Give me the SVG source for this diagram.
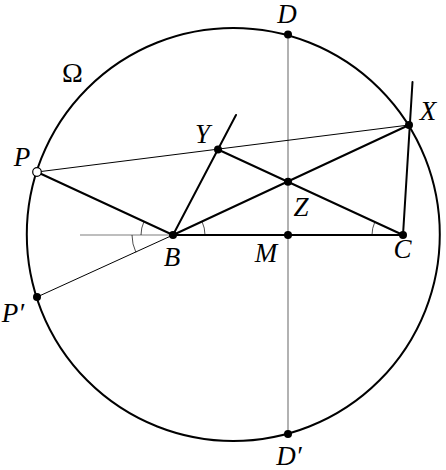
<svg xmlns="http://www.w3.org/2000/svg" width="446" height="470" viewBox="0 0 446 470">
<style>
.thick{stroke:#000;stroke-width:2;fill:none;stroke-linecap:round}
.thin{stroke:#000;stroke-width:1;fill:none}
.gray{stroke:#7f7f7f;stroke-width:1.2;fill:none}
.arc{stroke:#000;stroke-width:0.7;fill:none}
.pt{fill:#000}
.open{fill:#fff;stroke:#000;stroke-width:1.2}
.lbl{font-family:"Liberation Serif","DejaVu Serif",serif;font-style:italic;font-size:27px;fill:#000;text-anchor:middle}
.up{font-style:normal;font-size:28px}
</style>
<rect width="446" height="470" fill="#fff"/>
<g id="circle-omega">
<circle cx="233.3" cy="234.5" r="206.5" class="thick"/>
<text x="72.5" y="82" class="lbl up">Ω</text>
</g>
<g id="connectors">
<line x1="288" y1="34.5" x2="288" y2="434" class="gray"/>
<line x1="80" y1="235" x2="173" y2="235" class="gray"/>
<line x1="37" y1="172" x2="409" y2="125" class="thin"/>
<line x1="173" y1="235" x2="37" y2="297" class="thin"/>
<line x1="37" y1="172" x2="173" y2="235" class="thick"/>
<line x1="173" y1="235" x2="403" y2="235" class="thick"/>
<line x1="173" y1="235" x2="236" y2="115" class="thick"/>
<line x1="218" y1="149.5" x2="403" y2="235" class="thick"/>
<line x1="173" y1="235" x2="409" y2="125" class="thick"/>
<line x1="403" y1="235" x2="412.5" y2="82" class="thick"/>
<path d="M141,235 A32,32 0 0 1 144,221.5" class="arc"/>
<path d="M132,235 A41,41 0 0 0 135.9,252.3" class="arc"/>
<path d="M205,235 A32,32 0 0 0 202,221.5" class="arc"/>
<path d="M372,235 A31,31 0 0 1 374.8,222.1" class="arc"/>
</g>
<g id="D"><circle cx="288" cy="34.5" r="4" class="pt"/><text x="287" y="23" class="lbl">D</text></g>
<g id="Dprime"><circle cx="288" cy="434" r="4" class="pt"/><text x="289" y="465" class="lbl">D′</text></g>
<g id="P"><circle cx="37" cy="172" r="4.3" class="open"/><text x="22" y="166" class="lbl">P</text></g>
<g id="Pprime"><circle cx="37" cy="297" r="4" class="pt"/><text x="13" y="322" class="lbl">P′</text></g>
<g id="X"><circle cx="409" cy="125" r="4" class="pt"/><text x="428" y="120" class="lbl">X</text></g>
<g id="Y"><circle cx="218" cy="149.5" r="4" class="pt"/><text x="202.5" y="143" class="lbl">Y</text></g>
<g id="Z"><circle cx="288" cy="181.7" r="4" class="pt"/><text x="301" y="216" class="lbl">Z</text></g>
<g id="B"><circle cx="173" cy="235" r="4" class="pt"/><text x="172" y="266" class="lbl">B</text></g>
<g id="M"><circle cx="288" cy="235" r="4" class="pt"/><text x="266" y="262" class="lbl">M</text></g>
<g id="C"><circle cx="403" cy="235" r="4" class="pt"/><text x="402.5" y="258" class="lbl">C</text></g>
</svg>
